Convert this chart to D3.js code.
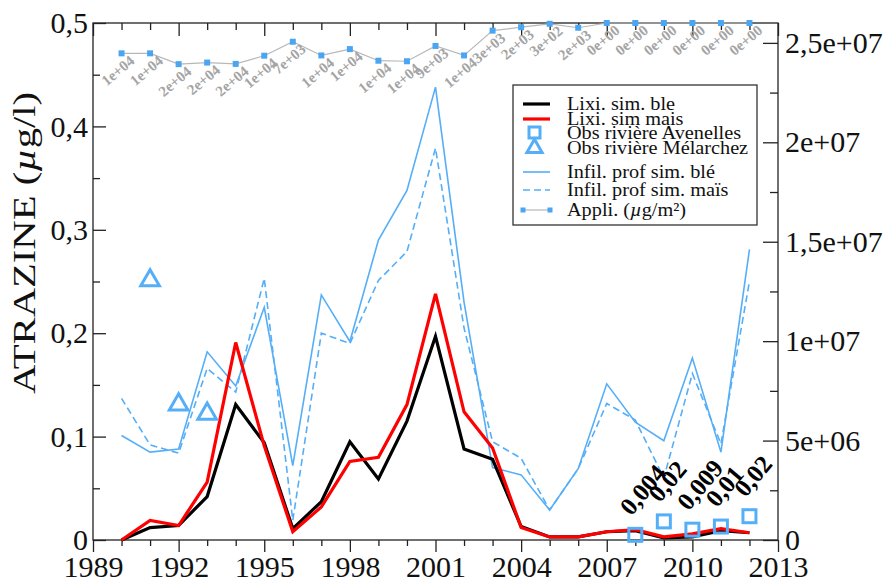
<!DOCTYPE html>
<html>
<head>
<meta charset="utf-8">
<script src="https://cdn.jsdelivr.net/npm/d3@7/dist/d3.min.js"></script>
<style>
  html, body { margin: 0; padding: 0; background: #fff; }
  svg { display: block; }
  text { font-family: "Liberation Serif", "Times New Roman", serif; }
</style>
</head>
<body>
<svg id="chart" width="889" height="586"></svg>
<script>
// ---------- data ----------
const years = [1990,1991,1992,1993,1994,1995,1996,1997,1998,1999,2000,2001,2002,2003,2004,2005,2006,2007,2008,2009,2010,2011,2012];
const lixiBle  = [0,0.012,0.014,0.042,0.131,0.094,0.011,0.037,0.095,0.059,0.115,0.197,0.088,0.078,0.013,0.003,0.003,0.008,0.009,0.002,0.003,0.009,0.007];
const lixiMais = [0,0.019,0.014,0.056,0.191,0.091,0.008,0.032,0.076,0.080,0.131,0.238,0.124,0.089,0.012,0.003,0.003,0.008,0.010,0.003,0.006,0.011,0.007];
const infilBle  = [0.101,0.085,0.088,0.182,0.149,0.225,0.072,0.237,0.192,0.290,0.338,0.438,0.230,0.070,0.063,0.029,0.069,0.151,0.114,0.096,0.176,0.085,0.281];
const infilMais = [0.137,0.092,0.084,0.166,0.143,0.253,0.019,0.200,0.190,0.251,0.279,0.379,0.205,0.095,0.079,0.029,0.069,0.132,0.116,0.060,0.161,0.093,0.250];
const appli = [11500,11500,15600,15000,15500,12400,7100,12300,9900,14300,14500,8700,12300,2900,1600,300,1800,0,0,0,0,0,0];
const appliLabels = ["1e+04","1e+04","2e+04","2e+04","2e+04","1e+04","7e+03","1e+04","1e+04","1e+04","1e+04","9e+03","1e+04","3e+03","2e+03","3e+02","2e+03","0e+00","0e+00","0e+00","0e+00","0e+00","0e+00"];
const melYears = [1991,1992,1993];
const melarchez = [0.251,0.131,0.122];
const aveYears = [2008,2009,2010,2011,2012];
const avenelles = [0.005,0.018,0.010,0.013,0.023];
const aveLabels = ["0,004","0,02","0,009","0,01","0,02"];

const xMajor = [1989,1992,1995,1998,2001,2004,2007,2010,2013];
const xMinor = [1990,1991,1993,1994,1996,1997,1999,2000,2002,2003,2005,2006,2008,2009,2011,2012];
const yLeftMajor = [0,0.1,0.2,0.3,0.4,0.5];
const yLeftLabels = ["0","0,1","0,2","0,3","0,4","0,5"];
const yLeftMinor = [0.05,0.15,0.25,0.35,0.45];
const yRightMajor = [0,5e6,1e7,1.5e7,2e7,2.5e7];
const yRightLabels = ["0","5e+06","1e+07","1,5e+07","2e+07","2,5e+07"];
const yRightMinor = [2.5e6,7.5e6,1.25e7,1.75e7,2.25e7];

// ---------- layout ----------
const L = 93, R = 778, T = 23, B = 540;
const svg = d3.select("#chart");

const x = d3.scaleLinear().domain([1989, 2013]).range([L, R]);
const yL = d3.scaleLinear().domain([0, 0.5]).range([B, T]);
const yR = d3.scaleLinear().domain([0, 2.6e7]).range([B, T]);
const yA = d3.scaleLinear().domain([0, 196000]).range([T, B]); // hidden, inverted

const blue = "#55aef8";
const fontTick = 30;

svg.append("rect").attr("x", L).attr("y", T).attr("width", R - L).attr("height", B - T)
  .attr("fill", "none").attr("stroke", "#222").attr("stroke-width", 1.3);

function styleAxis(g) {
  g.select(".domain").remove();
  g.selectAll("line").attr("stroke", "#222").attr("stroke-width", 1.3);
  g.selectAll("text").attr("font-size", fontTick).attr("fill", "#111")
    .attr("font-family", "'Liberation Serif','Times New Roman',serif");
}

// left axis
svg.append("g").attr("transform", `translate(${L},0)`)
  .call(d3.axisLeft(yL).tickValues(yLeftMajor).tickSize(-13).tickPadding(5)
    .tickFormat((d, i) => yLeftLabels[i])).call(styleAxis);
svg.append("g").attr("transform", `translate(${L},0)`)
  .call(d3.axisLeft(yL).tickValues(yLeftMinor).tickSize(-7).tickFormat("")).call(styleAxis);

// right axis
svg.append("g").attr("transform", `translate(${R},0)`)
  .call(d3.axisRight(yR).tickValues(yRightMajor).tickSize(-15).tickPadding(7)
    .tickFormat((d, i) => yRightLabels[i])).call(styleAxis);
svg.append("g").attr("transform", `translate(${R},0)`)
  .call(d3.axisRight(yR).tickValues(yRightMinor).tickSize(-8).tickFormat("")).call(styleAxis);

// bottom axis (outward ticks)
svg.append("g").attr("transform", `translate(0,${B})`)
  .call(d3.axisBottom(x).tickValues(xMajor).tickSize(12).tickPadding(4)
    .tickFormat(d3.format("d"))).call(styleAxis);
svg.append("g").attr("transform", `translate(0,${B})`)
  .call(d3.axisBottom(x).tickValues(xMinor).tickSize(6).tickFormat("")).call(styleAxis);

// top axis (inward ticks)
svg.append("g").attr("transform", `translate(0,${T})`)
  .call(d3.axisTop(x).tickValues(xMajor).tickSize(-13).tickFormat("")).call(styleAxis);
svg.append("g").attr("transform", `translate(0,${T})`)
  .call(d3.axisTop(x).tickValues(xMinor).tickSize(-7).tickFormat("")).call(styleAxis);

// y title
const title = svg.append("text")
  .attr("transform", `translate(35,243) rotate(-90) scale(1.27,1)`)
  .attr("text-anchor", "middle").attr("font-size", 32).attr("fill", "#111");
title.append("tspan").text("ATRAZINE (");
title.append("tspan").attr("font-style", "italic").text("µ");
title.append("tspan").text("g/l)");

// ---------- series ----------
const lineL = (vals) => d3.line().x((d, i) => x(years[i])).y((d) => yL(d))(vals);

svg.append("path").attr("d", lineL(infilMais)).attr("fill", "none")
  .attr("stroke", blue).attr("stroke-width", 1.6).attr("stroke-dasharray", "7,4");
svg.append("path").attr("d", lineL(infilBle)).attr("fill", "none")
  .attr("stroke", blue).attr("stroke-width", 1.6);
svg.append("path").attr("d", lineL(lixiBle)).attr("fill", "none")
  .attr("stroke", "#000").attr("stroke-width", 3.2);
svg.append("path").attr("d", lineL(lixiMais)).attr("fill", "none")
  .attr("stroke", "#f00").attr("stroke-width", 3.2);

// application (hidden inverted scale)
const lineA = d3.line().x((d, i) => x(years[i])).y((d) => yA(d));
svg.append("path").attr("d", lineA(appli)).attr("fill", "none")
  .attr("stroke", "#b8b8b8").attr("stroke-width", 1.2);
svg.selectAll(".appPt").data(appli).enter().append("rect")
  .attr("x", (d, i) => x(years[i]) - 3).attr("y", (d) => yA(d) - 3)
  .attr("width", 6).attr("height", 6).attr("fill", "#4aa6f2");
svg.selectAll(".appLbl").data(appli).enter().append("text")
  .attr("transform", (d, i) => `translate(${x(years[i]) + 14},${yA(d) + 9}) rotate(-40)`)
  .attr("text-anchor", "end").attr("font-size", 15).attr("font-weight", "bold")
  .attr("fill", "#a4a4a4").text((d, i) => appliLabels[i]);

// Mélarchez triangles
const tri = d3.symbol().type(d3.symbolTriangle).size(150);
svg.selectAll(".tri").data(melarchez).enter().append("path")
  .attr("d", tri).attr("transform", (d, i) => `translate(${x(melYears[i])},${yL(d)})`)
  .attr("fill", "none").attr("stroke", blue).attr("stroke-width", 3);

// Avenelles squares
svg.selectAll(".sq").data(avenelles).enter().append("rect")
  .attr("x", (d, i) => x(aveYears[i]) - 6.5).attr("y", (d) => yL(d) - 6.5)
  .attr("width", 13).attr("height", 13)
  .attr("fill", "none").attr("stroke", blue).attr("stroke-width", 3);
svg.selectAll(".sqLbl").data(avenelles).enter().append("text")
  .attr("transform", (d, i) => `translate(${x(aveYears[i]) - 4},${yL(d) - 18}) rotate(-50)`)
  .attr("font-size", 25).attr("font-weight", "bold").attr("fill", "#000")
  .text((d, i) => aveLabels[i]);

// ---------- legend ----------
const lg = svg.append("g");
lg.append("rect").attr("x", 513).attr("y", 85).attr("width", 244).attr("height", 140)
  .attr("fill", "#fff").attr("stroke", "#333").attr("stroke-width", 1.3);
const lx1 = 523, lx2 = 550, ltx = 567, lfs = 19.5;
function legText(y, parts) {
  const t = lg.append("text").attr("x", ltx).attr("y", y + 6).attr("font-size", lfs).attr("fill", "#111")
    .attr("transform", `translate(${ltx},0) scale(1.04,1) translate(${-ltx},0)`);
  parts.forEach(p => {
    const s = t.append("tspan").text(p.t);
    if (p.i) s.attr("font-style", "italic");
  });
}
lg.append("line").attr("x1", lx1).attr("x2", lx2).attr("y1", 104).attr("y2", 104).attr("stroke", "#000").attr("stroke-width", 3.2);
legText(104, [{t: "Lixi. sim. ble"}]);
lg.append("line").attr("x1", lx1).attr("x2", lx2).attr("y1", 119).attr("y2", 119).attr("stroke", "#f00").attr("stroke-width", 3.2);
legText(119, [{t: "Lixi. sim mais"}]);
lg.append("rect").attr("x", 529).attr("y", 127).attr("width", 11).attr("height", 11)
  .attr("fill", "none").attr("stroke", blue).attr("stroke-width", 3);
legText(133, [{t: "Obs rivière Avenelles"}]);
lg.append("path").attr("d", d3.symbol().type(d3.symbolTriangle).size(100))
  .attr("transform", "translate(534.5,148)").attr("fill", "none").attr("stroke", blue).attr("stroke-width", 3);
legText(148, [{t: "Obs rivière Mélarchez"}]);
lg.append("line").attr("x1", lx1).attr("x2", lx2).attr("y1", 172).attr("y2", 172).attr("stroke", blue).attr("stroke-width", 1.6);
legText(172, [{t: "Infil. prof sim. blé"}]);
lg.append("line").attr("x1", lx1).attr("x2", lx2).attr("y1", 190).attr("y2", 190).attr("stroke", blue).attr("stroke-width", 1.6).attr("stroke-dasharray", "7,4");
legText(190, [{t: "Infil. prof sim. maïs"}]);
lg.append("line").attr("x1", lx1).attr("x2", lx2).attr("y1", 210).attr("y2", 210).attr("stroke", "#b8b8b8").attr("stroke-width", 1.2);
[lx1, lx2].forEach(px => lg.append("rect").attr("x", px - 2.5).attr("y", 207.5).attr("width", 5).attr("height", 5).attr("fill", "#4aa6f2"));
legText(210, [{t: "Appli. ("}, {t: "µ", i: true}, {t: "g/m²)"}]);
</script>
</body>
</html>
